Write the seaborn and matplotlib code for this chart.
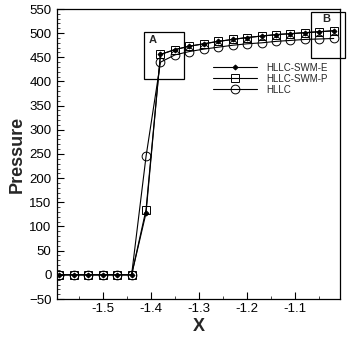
import numpy as np
import pandas as pd
import matplotlib
matplotlib.use("Agg")
import matplotlib.pyplot as plt
from matplotlib.patches import Rectangle
from matplotlib.ticker import MultipleLocator
import seaborn as sns

x = [-1.59, -1.56, -1.53, -1.50, -1.47, -1.44, -1.41, -1.38, -1.35, -1.32,
     -1.29, -1.26, -1.23, -1.20, -1.17, -1.14, -1.11, -1.08, -1.05, -1.02]
hllc_swm_e = [0, 0, 0, 0, 0, 0, 128, 456, 466, 473, 478, 483, 487, 491, 494, 497, 499, 501, 503, 505]
hllc_swm_p = [0, 0, 0, 0, 0, 0, 135, 456, 466, 473, 478, 483, 487, 491, 494, 497, 499, 501, 503, 505]
hllc = [0, 0, 0, 0, 0, 0, 245, 440, 455, 462, 467, 471, 475, 478, 480, 483, 485, 487, 488, 489]
labels = ["HLLC-SWM-E", "HLLC-SWM-P", "HLLC"]
xticks = [-1.5, -1.4, -1.3, -1.2, -1.1]
yticks = list(range(-50, 551, 50))

sns.set_style("ticks")
plt.rcParams['font.family'] = ['Liberation Sans', 'DejaVu Sans']

fig = plt.figure(figsize=(3.48, 3.41), dpi=100)
ax = fig.add_axes([57/348, 1 - 299/341, (340 - 57)/348, (299 - 9)/341])

styles = [
    dict(marker='D', markersize=2.5, markerfacecolor='black', markeredgecolor='black'),
    dict(marker='s', markersize=5.5, markerfacecolor='none', markeredgecolor='black', markeredgewidth=0.7),
    dict(marker='o', markersize=6.3, markerfacecolor='none', markeredgecolor='black', markeredgewidth=0.7),
]
for ys, lab, st in zip([hllc_swm_e, hllc_swm_p, hllc], labels, styles):
    df = pd.DataFrame({"x": x, "y": ys})
    sns.lineplot(data=df, x="x", y="y", ax=ax, color='black', linewidth=0.8,
                 label=lab, **st)

ax.set_xlim(-1.595, -1.007)
ax.set_ylim(-50, 550)
ax.set_xticks(xticks)
ax.set_yticks(yticks)
ax.set_xticklabels([f"{t:.1f}" for t in xticks])
ax.xaxis.set_minor_locator(MultipleLocator(0.05))
ax.yaxis.set_minor_locator(MultipleLocator(10))
ax.tick_params(axis='both', which='major', direction='in', length=5, width=0.8,
               labelsize=9.5, colors='black', top=False, right=False)
ax.tick_params(axis='both', which='minor', direction='in', length=2.5, width=0.6,
               top=False, right=False)
ax.tick_params(axis='y', pad=4)
ax.tick_params(axis='x', pad=3)
for s in ax.spines.values():
    s.set_linewidth(0.9)
    s.set_color('black')

ax.set_xlabel("X", fontsize=13, fontweight='bold', labelpad=2)
ax.set_ylabel("Pressure", fontsize=13, fontweight='bold', labelpad=2)

# zoom boxes
ax.add_patch(Rectangle((-1.415, 405), 0.084, 97, fill=False, edgecolor='black', linewidth=0.9))
ax.add_patch(Rectangle((-1.067, 448), 0.071, 96, fill=False, edgecolor='black',
                       linewidth=0.9, clip_on=False))
ax.text(-1.405, 496, "A", fontsize=8, fontweight='bold', ha='left', va='top')
ax.text(-1.044, 540, "B", fontsize=8, fontweight='bold', ha='left', va='top')

leg = ax.legend(loc='upper left', bbox_to_anchor=(0.551, 0.815), frameon=False,
                fontsize=7, handlelength=4.5, handletextpad=1.0, labelspacing=0.1,
                borderpad=0, borderaxespad=0)

fig.savefig("out.png", dpi=100)
